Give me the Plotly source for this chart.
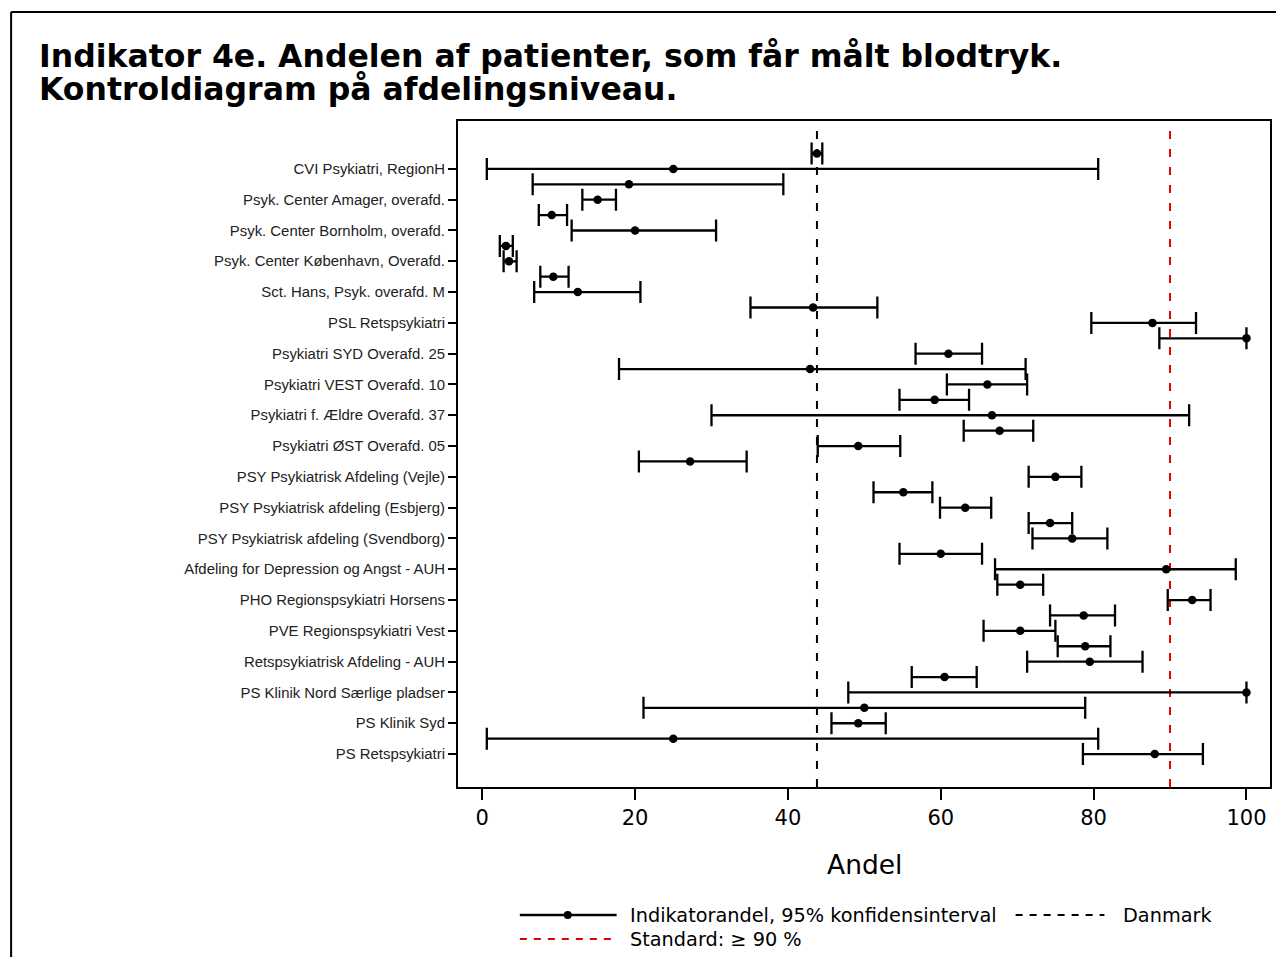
import plotly.graph_objects as go

# ---------------- data ----------------
dept_labels = [
    "CVI Psykiatri, RegionH",
    "Psyk. Center Amager, overafd.",
    "Psyk. Center Bornholm, overafd.",
    "Psyk. Center København, Overafd.",
    "Sct. Hans, Psyk. overafd. M",
    "PSL Retspsykiatri",
    "Psykiatri SYD Overafd. 25",
    "Psykiatri VEST Overafd. 10",
    "Psykiatri f. Ældre Overafd. 37",
    "Psykiatri ØST Overafd. 05",
    "PSY Psykiatrisk Afdeling (Vejle)",
    "PSY Psykiatrisk afdeling (Esbjerg)",
    "PSY Psykiatrisk afdeling (Svendborg)",
    "Afdeling for Depression og Angst - AUH",
    "PHO Regionspsykiatri Horsens",
    "PVE Regionspsykiatri Vest",
    "Retspsykiatrisk Afdeling - AUH",
    "PS Klinik Nord Særlige pladser",
    "PS Klinik Syd",
    "PS Retspsykiatri",
]
label_rows = [1, 3, 5, 7, 9, 11, 13, 15, 17, 19, 21, 23, 25, 27, 29, 31, 33, 35, 37, 39]

rows = list(range(40))
andel = [43.8, 25.0, 19.2, 15.1, 9.1, 20.0, 3.1, 3.5, 9.3, 12.5,
         43.3, 87.7, 100.0, 61.0, 42.9, 66.1, 59.2, 66.7, 67.7, 49.2,
         27.2, 75.0, 55.1, 63.2, 74.3, 77.2, 60.0, 89.5, 70.4, 92.9,
         78.7, 70.4, 78.9, 79.5, 60.5, 100.0, 50.0, 49.2, 25.0, 88.0]
lower = [43.1, 0.6, 6.6, 13.1, 7.4, 11.7, 2.3, 2.8, 7.6, 6.8,
         35.1, 79.7, 88.6, 56.7, 17.9, 60.8, 54.6, 30.0, 63.0, 43.9,
         20.5, 71.5, 51.2, 59.9, 71.5, 72.0, 54.6, 67.1, 67.4, 89.7,
         74.3, 65.6, 75.3, 71.3, 56.2, 47.9, 21.1, 45.7, 0.6, 78.6]
upper = [44.5, 80.6, 39.4, 17.5, 11.1, 30.6, 4.0, 4.5, 11.3, 20.7,
         51.7, 93.4, 100.0, 65.4, 71.1, 71.3, 63.7, 92.5, 72.1, 54.7,
         34.6, 78.4, 58.9, 66.6, 77.2, 81.8, 65.4, 98.6, 73.4, 95.3,
         82.8, 75.0, 82.2, 86.4, 64.7, 100.0, 78.9, 52.8, 80.6, 94.3]

danmark = 43.8
standard = 90
x_ticks = [0, 20, 40, 60, 80, 100]

title_lines = ["Indikator 4e. Andelen af patienter, som får målt blodtryk.",
               "Kontroldiagram på afdelingsniveau."]
x_title = "Andel"
legend_names = ["Indikatorandel, 95% konfidensinterval", "Danmark", "Standard: \u2265 90 %"]

# ---------------- layout helpers (screen pixel -> paper coords) ----------------
OFF = 8  # page body margin
W, H = 1268, 949
L, T = 458 - OFF, 121 - OFF
PW, PH = 814, 666
R, B = W - L - PW, H - T - PH


def px(xp):
    return (xp - OFF - L) / PW


def py(yp):
    return (T + PH - (yp - OFF)) / PH


err_plus = [u - a for u, a in zip(upper, andel)]
err_minus = [a - lo for a, lo in zip(andel, lower)]

fig = go.Figure()
fig.add_trace(go.Scatter(
    x=andel, y=rows, mode="markers",
    marker=dict(color="black", size=8.5, symbol="circle"),
    error_x=dict(type="data", symmetric=False, array=err_plus, arrayminus=err_minus,
                 color="black", thickness=2.3, width=11),
    showlegend=False, name=legend_names[0],
))

shapes = [
    dict(type="line", xref="x", yref="paper", x0=danmark, x1=danmark, y0=0, y1=1,
         line=dict(color="black", width=2, dash="8px,10px"), layer="below"),
    dict(type="line", xref="x", yref="paper", x0=standard, x1=standard, y0=0, y1=1,
         line=dict(color="#e00000", width=2, dash="8px,10px"), layer="below"),
    # outer page border
    dict(type="line", xref="paper", yref="paper", x0=px(10), x1=px(1290), y0=py(12), y1=py(12),
         line=dict(color="black", width=2)),
    dict(type="line", xref="paper", yref="paper", x0=px(10), x1=px(10), y0=py(12), y1=py(970),
         line=dict(color="black", width=2)),
    # legend samples
    dict(type="line", xref="paper", yref="paper", x0=px(520), x1=px(617), y0=py(915), y1=py(915),
         line=dict(color="black", width=2.3)),
    dict(type="circle", xref="paper", yref="paper", xsizemode="pixel", ysizemode="pixel",
         xanchor=px(568), yanchor=py(915), x0=-4, x1=4, y0=-4, y1=4,
         fillcolor="black", line=dict(color="black", width=0)),
    dict(type="line", xref="paper", yref="paper", x0=px(1017), x1=px(1106), y0=py(915), y1=py(915),
         line=dict(color="black", width=2, dash="7px,7px")),
    dict(type="line", xref="paper", yref="paper", x0=px(520), x1=px(617), y0=py(939), y1=py(939),
         line=dict(color="#e00000", width=2, dash="7px,7px")),
]

annotations = [
    dict(text="<b>" + title_lines[0] + "</b>", xref="paper", yref="paper", x=px(36), y=py(56),
         xanchor="left", yanchor="middle", showarrow=False,
         font=dict(family="DejaVu Sans", size=31.5, color="black")),
    dict(text="<b>" + title_lines[1] + "</b>", xref="paper", yref="paper", x=px(36), y=py(89),
         xanchor="left", yanchor="middle", showarrow=False,
         font=dict(family="DejaVu Sans", size=31.5, color="black")),
    dict(text=x_title, xref="paper", yref="paper", x=px(865), y=py(865),
         xanchor="center", yanchor="middle", showarrow=False,
         font=dict(family="DejaVu Sans", size=26.5, color="black")),
    dict(text=legend_names[0], xref="paper", yref="paper", x=px(628), y=py(915),
         xanchor="left", yanchor="middle", showarrow=False,
         font=dict(family="DejaVu Sans", size=19.3, color="black")),
    dict(text=legend_names[1], xref="paper", yref="paper", x=px(1123), y=py(915),
         xanchor="left", yanchor="middle", showarrow=False,
         font=dict(family="DejaVu Sans", size=19.3, color="black")),
    dict(text=legend_names[2], xref="paper", yref="paper", x=px(628), y=py(939),
         xanchor="left", yanchor="middle", showarrow=False,
         font=dict(family="DejaVu Sans", size=19.3, color="black")),
]

fig.update_layout(
    width=W, height=H,
    margin=dict(l=L, r=R, t=T, b=B, pad=0),
    paper_bgcolor="white", plot_bgcolor="white",
    showlegend=False,
    shapes=shapes, annotations=annotations,
    xaxis=dict(range=[-3.17, 103.08], tickvals=x_ticks, ticks="outside", ticklen=11, tickwidth=2,
               tickcolor="black", showline=True, linewidth=2, linecolor="black", mirror=True,
               showgrid=False, zeroline=False,
               tickfont=dict(family="DejaVu Sans", size=21, color="black")),
    yaxis=dict(range=[41.14, -2.11], tickvals=label_rows, ticktext=dept_labels,
               ticks="outside", ticklen=8, tickwidth=2, tickcolor="black",
               showline=True, linewidth=2, linecolor="black", mirror=True,
               showgrid=False, zeroline=False,
               tickfont=dict(family="Liberation Sans, Arial", size=14.9, color="#222")),
)

fig.write_html("out.html")
